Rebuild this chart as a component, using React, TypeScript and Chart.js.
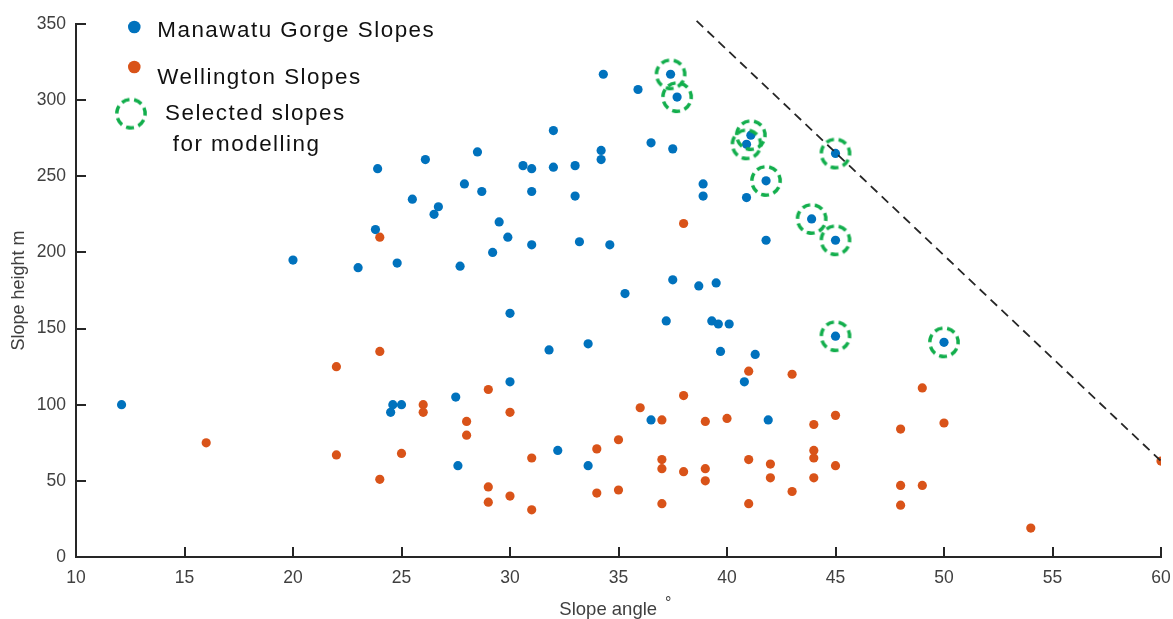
import React, { useEffect, useRef } from "react";
import { Chart, registerables } from "chart.js";

Chart.register(...registerables);

// ---- Data ----
const manawatuAngle = [
  12.1, 20, 23, 23.9, 23.8, 24.8, 26.1, 28.5, 32, 34.3, 35.9, 37.4, 37.7, 36.5, 37.5,
  41.1, 40.9, 41.8, 34.2, 34.2, 33, 32, 30.6, 31, 27.9, 28.7, 31, 33, 25.5, 26.7,
  26.5, 29.5, 29.9, 31, 29.2, 33.2, 34.6, 27.7, 37.5, 38.7, 39.5, 35.3, 38.9, 38.9,
  40.9, 41.8, 45, 43.9, 45, 30, 31.8, 33.6, 37.2, 39.3, 39.6, 40.1, 39.7, 41.3,
  40.8, 30, 27.5, 24.6, 25, 24.5, 36.5, 41.9, 32.2, 27.6, 33.6, 45, 50,
];
const manawatuHeight = [
  100, 195, 190, 255, 215, 193, 261, 266, 280, 317, 307, 317, 302, 272, 268,
  277, 271, 247, 267, 261, 257, 256, 257, 255, 245, 240, 240, 237, 235, 230,
  225, 220, 210, 205, 200, 207, 205, 191, 182, 178, 180, 173, 245, 237,
  236, 208, 265, 222, 208, 160, 136, 140, 155, 155, 153, 153, 135, 133,
  115, 115, 105, 100, 100, 95, 90, 90, 70, 60, 60, 145, 141,
];

const wellingtonAngle = [
  16, 22, 24, 22, 24, 25, 24, 38, 26, 26, 28, 28, 29, 30, 29, 29, 30, 31, 31, 34,
  34, 35, 35, 36, 37, 37, 37, 37, 38, 38, 39, 39, 39, 40, 41, 41, 41, 42, 42, 43,
  43, 44, 44, 44, 44, 45, 45, 48, 48, 48, 49, 49, 50, 54, 60,
];
const wellingtonHeight = [
  75, 125, 135, 67, 51, 68, 210, 219, 100, 95, 89, 80, 110, 95, 46, 36, 40, 65, 31, 71,
  42, 77, 44, 98, 90, 64, 58, 35, 106, 56, 89, 58, 50, 91, 122, 64, 35, 61, 52, 120,
  43, 87, 70, 65, 52, 93, 60, 84, 47, 34, 111, 47, 88, 19, 63,
];

const selectedAngle = [37.4, 37.7, 41.1, 40.9, 41.8, 45, 43.9, 45, 45, 50];
const selectedHeight = [317, 302, 277, 271, 247, 265, 222, 208, 145, 141];

const limitAngle = [38.6, 60];
const limitHeight = [352, 63];

const seriesLabels = ["Manawatu Gorge Slopes", "Wellington Slopes", "Selected slopes\n for modelling"];
const xTitle = "Slope angle";
const yTitle = "Slope height m";

const FONT = '"Liberation Sans", Arial, sans-serif';
const BLUE = "#0072BD";
const ORANGE = "#D95319";
const GREEN = "#12AE4C";
const AXIS = "#262626";
const TICK_TEXT = "#404040";

const toPoints = (xs: number[], ys: number[]) => xs.map((x, i) => ({ x, y: ys[i] }));

function makeDashedCircle(): HTMLCanvasElement {
  const c = document.createElement("canvas");
  c.width = 36;
  c.height = 36;
  const g = c.getContext("2d")!;
  g.strokeStyle = GREEN;
  g.lineWidth = 3.5;
  g.setLineDash([8, 4.6]);
  g.beginPath();
  g.arc(18, 18, 14.2, -Math.PI / 2 + 0.25, Math.PI * 1.5 + 0.25);
  g.stroke();
  return c;
}

export default function App() {
  const ref = useRef<HTMLCanvasElement | null>(null);

  useEffect(() => {
    if (!ref.current) return;
    const ring = makeDashedCircle();

    const inwardTicks = {
      id: "inwardTicks",
      afterDraw(chart: any) {
        const { ctx, chartArea } = chart;
        const xs = chart.scales.x;
        const ys = chart.scales.y;
        ctx.save();
        ctx.strokeStyle = AXIS;
        ctx.lineWidth = 2;
        ctx.beginPath();
        xs.ticks.forEach((t: any) => {
          const p = Math.round(xs.getPixelForValue(t.value));
          ctx.moveTo(p, chartArea.bottom);
          ctx.lineTo(p, chartArea.bottom - 10);
        });
        ys.ticks.forEach((t: any) => {
          const p = Math.round(ys.getPixelForValue(t.value));
          ctx.moveTo(chartArea.left, p);
          ctx.lineTo(chartArea.left + 10, p);
        });
        ctx.stroke();

        // superscript degree sign on the x-axis title
        const size = 18.5;
        ctx.font = `${size}px ${FONT}`;
        const full = ctx.measureText(xTitle + "    ").width;
        const part = ctx.measureText(xTitle).width;
        const cx = (chartArea.left + chartArea.right) / 2;
        const start = cx - full / 2;
        ctx.fillStyle = TICK_TEXT;
        ctx.textAlign = "center";
        ctx.textBaseline = "alphabetic";
        ctx.font = `16px ${FONT}`;
        ctx.fillText("°", start + part + 11, chartArea.bottom + 51);
        ctx.restore();
      },
    };

    const customLegend = {
      id: "customLegend",
      afterDraw(chart: any) {
        const { ctx, chartArea } = chart;
        const L = chartArea.left;
        const T = chartArea.top;
        ctx.save();
        // markers
        ctx.fillStyle = BLUE;
        ctx.beginPath();
        ctx.arc(L + 58.3, T + 3, 6.3, 0, Math.PI * 2);
        ctx.fill();
        ctx.fillStyle = ORANGE;
        ctx.beginPath();
        ctx.arc(L + 58.3, T + 43, 6.3, 0, Math.PI * 2);
        ctx.fill();
        ctx.drawImage(ring, L + 55 - ring.width / 2, T + 89.6 - ring.height / 2);
        // texts
        ctx.fillStyle = "#111";
        ctx.font = `22.4px ${FONT}`;
        ctx.textAlign = "left";
        ctx.textBaseline = "alphabetic";
        try {
          (ctx as any).letterSpacing = "1.5px";
        } catch (e) {}
        ctx.fillText(seriesLabels[0], L + 81.3, T + 13);
        ctx.fillText(seriesLabels[1], L + 81.3, T + 59.6);
        const lines = seriesLabels[2].split("\n");
        ctx.fillText(lines[0], L + 89, T + 96.3);
        ctx.fillText(lines[1], L + 89, T + 127);
        try {
          (ctx as any).letterSpacing = "0px";
        } catch (e) {}
        ctx.restore();
      },
    };

    const chart = new Chart(ref.current, {
      type: "scatter",
      data: {
        datasets: [
          {
            label: "limit",
            data: toPoints(limitAngle, limitHeight),
            showLine: true,
            borderColor: AXIS,
            borderWidth: 1.8,
            borderDash: [9, 6],
            pointRadius: 0,
            fill: false,
            clip: false as any,
            order: 0,
          } as any,
          {
            label: seriesLabels[2],
            data: toPoints(selectedAngle, selectedHeight),
            pointStyle: ring as any,
            pointRadius: 14,
            order: 1,
          },
          {
            label: seriesLabels[0],
            data: toPoints(manawatuAngle, manawatuHeight),
            backgroundColor: BLUE,
            borderColor: BLUE,
            borderWidth: 0,
            pointRadius: 4.6,
            order: 2,
          },
          {
            label: seriesLabels[1],
            data: toPoints(wellingtonAngle, wellingtonHeight),
            backgroundColor: ORANGE,
            borderColor: ORANGE,
            borderWidth: 0,
            pointRadius: 4.6,
            order: 3,
          },
        ],
      },
      options: {
        responsive: false,
        animation: false,
        devicePixelRatio: 1,
        layout: { autoPadding: false, padding: { left: 0, right: 12, top: 24, bottom: 0 } },
        plugins: {
          legend: { display: false },
          tooltip: { enabled: false },
        },
        scales: {
          x: {
            type: "linear",
            min: 10,
            max: 60,
            ticks: {
              stepSize: 5,
              color: TICK_TEXT,
              font: { family: FONT, size: 17.5 },
              padding: 11,
              maxRotation: 0,
              autoSkip: false,
            },
            grid: { display: false, drawTicks: false },
            border: { display: true, color: AXIS, width: 2 },
            title: {
              display: true,
              text: xTitle + "    ",
              color: TICK_TEXT,
              font: { family: FONT, size: 18.5, lineHeight: 1 },
              padding: { top: 0, bottom: 0 },
            },
            afterFit: (s: any) => {
              s.height = 62;
              s.paddingLeft = 0;
              s.paddingRight = 0;
            },
          },
          y: {
            type: "linear",
            min: 0,
            max: 350,
            ticks: {
              stepSize: 50,
              color: TICK_TEXT,
              font: { family: FONT, size: 17.5 },
              padding: 10,
              autoSkip: false,
            },
            grid: { display: false, drawTicks: false },
            border: { display: true, color: AXIS, width: 2 },
            title: {
              display: true,
              text: yTitle,
              color: TICK_TEXT,
              font: { family: FONT, size: 18, lineHeight: 1 },
              padding: { top: 10.5, bottom: 0 },
            },
            afterFit: (s: any) => {
              s.width = 76;
              s.paddingTop = 0;
              s.paddingBottom = 0;
            },
          },
        },
      },
      plugins: [inwardTicks, customLegend],
    } as any);

    return () => chart.destroy();
  }, []);

  return (
    <div style={{ position: "absolute", left: 0, top: 0, width: 1173, height: 619, background: "#fff" }}>
      <canvas ref={ref} width={1173} height={619} style={{ display: "block" }} />
    </div>
  );
}
